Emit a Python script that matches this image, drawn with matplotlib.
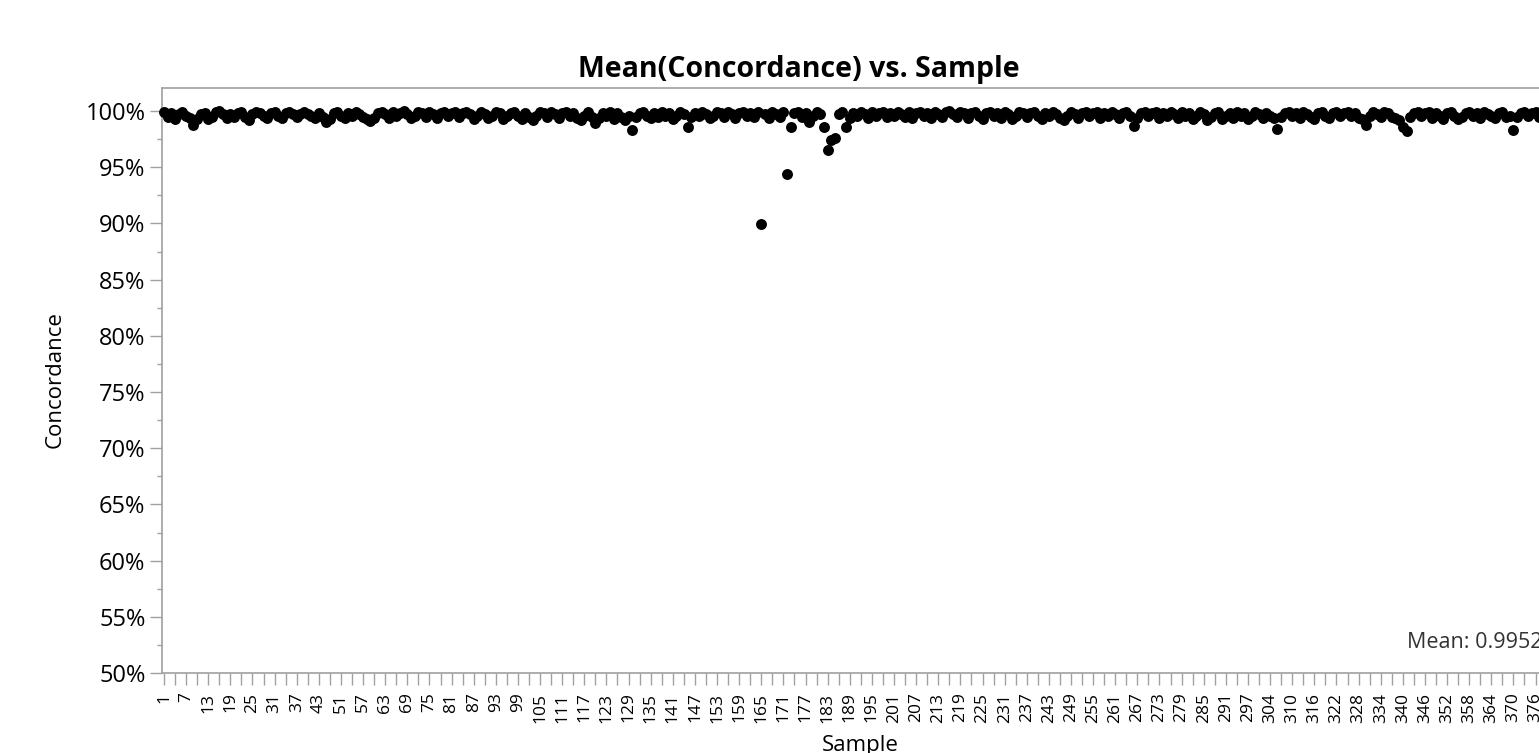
import matplotlib
matplotlib.use("Agg")
import matplotlib.pyplot as plt
from matplotlib.ticker import FixedLocator, PercentFormatter, MultipleLocator

# sample ids in plot order (a few ids are missing in the data)
sample_ids = list(range(1, 47)) + [48, 50] + list(range(51, 301)) + [302, 303] + list(range(304, 382))

# mean concordance per sample
concordance = [
    0.999, 0.995, 0.998, 0.993, 0.997, 0.999, 0.996, 0.994, 0.988, 0.993, 0.997, 0.998, 0.993, 0.995, 0.999, 1.000, 0.997, 0.994, 0.997, 0.995,
    0.998, 0.999, 0.995, 0.992, 0.997, 0.999, 0.998, 0.996, 0.994, 0.998, 0.999, 0.996, 0.994, 0.998, 0.999, 0.997, 0.995, 0.997, 0.999, 0.997,
    0.996, 0.994, 0.998, 0.995, 0.990, 0.993, 0.998, 0.999, 0.996, 0.994, 0.998, 0.996, 0.999, 0.997, 0.995, 0.993, 0.991, 0.994, 0.998, 0.999,
    0.997, 0.994, 0.999, 0.996, 0.998, 1.000, 0.997, 0.994, 0.996, 0.999, 0.998, 0.995, 0.999, 0.997, 0.994, 0.998, 0.999, 0.996, 0.998, 0.999,
    0.995, 0.998, 0.999, 0.997, 0.993, 0.996, 0.999, 0.997, 0.994, 0.996, 0.999, 0.998, 0.993, 0.996, 0.998, 0.999, 0.996, 0.993, 0.998, 0.995,
    0.992, 0.996, 0.999, 0.998, 0.995, 0.999, 0.997, 0.994, 0.998, 0.999, 0.996, 0.998, 0.994, 0.992, 0.996, 0.999, 0.995, 0.989, 0.994, 0.998,
    0.996, 0.999, 0.993, 0.998, 0.995, 0.992, 0.996, 0.983, 0.995, 0.998, 0.999, 0.996, 0.994, 0.998, 0.995, 0.999, 0.996, 0.998, 0.993, 0.996,
    0.999, 0.997, 0.986, 0.995, 0.998, 0.996, 0.999, 0.997, 0.994, 0.996, 0.999, 0.998, 0.995, 0.999, 0.997, 0.994, 0.998, 0.999, 0.996, 0.998,
    0.995, 0.999, 0.8995, 0.997, 0.994, 0.999, 0.997, 0.995, 0.999, 0.944, 0.986, 0.998, 0.999, 0.995, 0.998, 0.990, 0.996, 0.999, 0.997, 0.986,
    0.965, 0.974, 0.976, 0.997, 0.999, 0.986, 0.994, 0.998, 0.996, 0.999, 0.997, 0.994, 0.999, 0.996, 0.998, 0.999, 0.995, 0.998, 0.996, 0.999,
    0.997, 0.995, 0.999, 0.994, 0.998, 0.999, 0.996, 0.998, 0.994, 0.999, 0.997, 0.995, 0.999, 1.000, 0.997, 0.995, 0.999, 0.998, 0.994, 0.998,
    0.999, 0.996, 0.993, 0.998, 0.999, 0.996, 0.998, 0.994, 0.999, 0.997, 0.993, 0.996, 0.999, 0.998, 0.995, 0.998, 0.999, 0.996, 0.993, 0.998,
    0.996, 0.999, 0.997, 0.994, 0.992, 0.996, 0.999, 0.997, 0.994, 0.998, 0.999, 0.996, 0.998, 0.999, 0.994, 0.998, 0.996, 0.999, 0.997, 0.994,
    0.998, 0.999, 0.996, 0.987, 0.994, 0.998, 0.999, 0.996, 0.998, 0.999, 0.994, 0.998, 0.996, 0.999, 0.997, 0.994, 0.999, 0.996, 0.998, 0.993,
    0.996, 0.999, 0.997, 0.992, 0.995, 0.998, 0.999, 0.993, 0.996, 0.998, 0.994, 0.999, 0.996, 0.998, 0.993, 0.996, 0.999, 0.997, 0.994, 0.998,
    0.996, 0.994, 0.984, 0.995, 0.998, 0.999, 0.996, 0.998, 0.994, 0.999, 0.997, 0.995, 0.993, 0.998, 0.999, 0.996, 0.994, 0.998, 0.999, 0.996,
    0.998, 0.999, 0.996, 0.998, 0.994, 0.993, 0.988, 0.996, 0.999, 0.997, 0.995, 0.999, 0.998, 0.995, 0.994, 0.992, 0.986, 0.982, 0.995, 0.998,
    0.999, 0.996, 0.998, 0.999, 0.994, 0.998, 0.996, 0.993, 0.998, 0.999, 0.996, 0.993, 0.995, 0.998, 0.999, 0.996, 0.998, 0.994, 0.999, 0.997,
    0.996, 0.994, 0.998, 0.999, 0.995, 0.996, 0.983, 0.995, 0.998, 0.999, 0.996, 0.998, 0.999, 0.995, 0.998, 0.996, 0.999, 0.998,
]

mean_label = "Mean: 0.9952"

assert len(sample_ids) == len(concordance)


def main():
    plt.rcParams['font.family'] = ['Open Sans', 'DejaVu Sans']
    grey = "#a0a0a0"

    W, H = 1539, 753
    fig = plt.figure(figsize=(W / 100, H / 100), dpi=100)

    n = len(concordance)
    px_per_cat = 3.687
    left_px, bottom_px, top_px = 162.3, 673, 88
    x_lo, x_hi = -0.46, n - 0.5
    width_px = (x_hi - x_lo) * px_per_cat
    ax = fig.add_axes([left_px / W, (H - bottom_px) / H, width_px / W, (bottom_px - top_px) / H])

    x = list(range(n))
    ax.scatter(x, concordance, s=62, color="black", linewidths=0, zorder=3, clip_on=False)

    ax.set_xlim(x_lo, x_hi)
    ax.set_ylim(0.5, 1.0205)

    ax.xaxis.set_major_locator(FixedLocator(x[::6]))
    ax.set_xticklabels([str(s) for s in sample_ids[::6]], rotation=90, fontsize=12.5, va="top")
    ax.xaxis.set_minor_locator(FixedLocator(x[3::6]))
    ax.tick_params(axis="x", which="both", length=8.6, width=1, color=grey, pad=5.5)

    ax.yaxis.set_major_locator(MultipleLocator(0.05))
    ax.yaxis.set_minor_locator(MultipleLocator(0.025))
    ax.yaxis.set_major_formatter(PercentFormatter(1.0, decimals=0))
    ax.tick_params(axis="y", which="major", length=8.5, width=1, color=grey, labelsize=17, pad=3.6)
    ax.tick_params(axis="y", which="minor", length=3.6, width=1, color=grey)

    for side in ["left", "bottom", "top", "right"]:
        ax.spines[side].set_color(grey)
        ax.spines[side].set_linewidth(1.2)

    fig.text(798.5 / W, (H - 70) / H, "Mean(Concordance) vs. Sample", ha="center", va="center",
             fontsize=20.5, fontweight="bold")
    fig.text(55 / W, (H - 380) / H, "Concordance", rotation=90, ha="center", va="center", fontsize=16)
    fig.text(860 / W, (H - 735) / H, "Sample", ha="center", va="top", fontsize=16)
    fig.text(1407 / W, (H - 643) / H, mean_label, ha="left", va="center", fontsize=15.5, color="#333333")

    fig.savefig("out.png", dpi=100)


if __name__ == "__main__":
    main()
